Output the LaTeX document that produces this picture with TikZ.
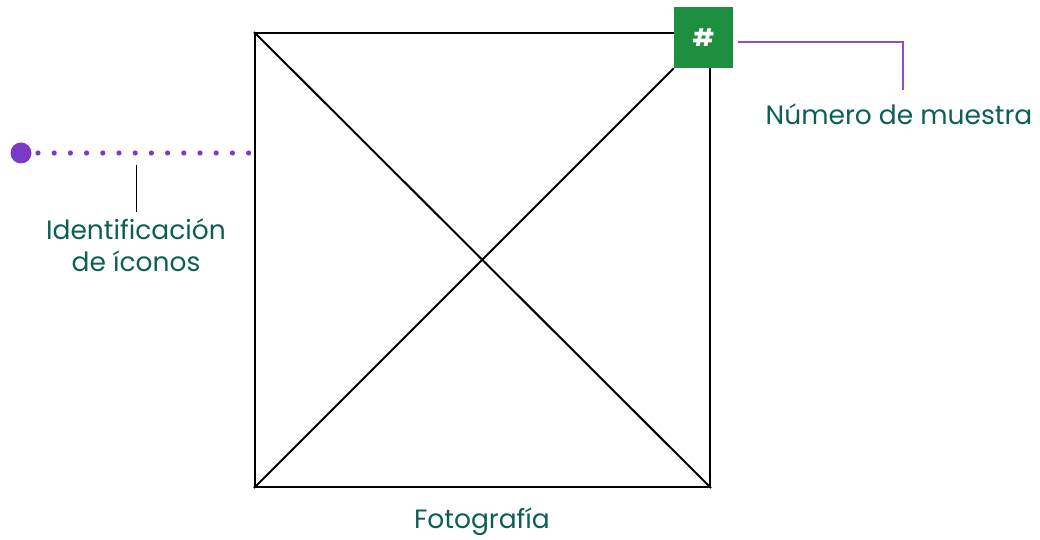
\documentclass[tikz,border=0pt]{standalone}
\usepackage{fontspec}
\setmainfont{Poppins}
\usepackage{xcolor}
\definecolor{TxtTeal}{HTML}{0B5F55}
\definecolor{BoxGreen}{HTML}{1E8F41}
\definecolor{DotPurp}{HTML}{7B3AC6}
\definecolor{LinePurp}{HTML}{8A4FD0}
\usetikzlibrary{positioning}

\begin{document}
\begin{tikzpicture}[x=1pt, y=-1pt,
  labeltext/.style={text=TxtTeal, font=\fontsize{26.5}{32}\selectfont, align=center, inner sep=0pt},
  photoframe/.style={draw=black, line width=2pt, minimum width=455pt, minimum height=454pt, inner sep=0pt}]

  % Hintergrund / Rahmen
  \useasboundingbox (0,0) rectangle (1040,540);

  % Fotografie
  \node[photoframe] (photo) at (482.5,260) {};
  \draw[line width=2pt] (photo.north west) -- (photo.south east);

  % Nummernfeld
  \node[fill=BoxGreen, minimum width=59pt, minimum height=61pt, inner sep=0pt,
        text=white, font=\fontsize{24}{24}\selectfont\bfseries] (num) at (703.5,37.5) {\#};
  \draw[line width=2pt] (photo.south west) -- (num.south west);

  % Beschriftungen
  \node[labeltext] (numlbl) at (899,114) {Número de muestra};
  \node[labeltext] (iconlbl) at (136,245) {Identificación\\de íconos};
  \node[labeltext] (photolbl) at (482,522) {Fotografía};

  % Verbinder
  \coordinate (numbend) at (903,42);
  \draw[LinePurp, line width=1.3pt] (738,42) -- (numbend) -- (numbend |- 0,90);

  \fill[DotPurp] (21,153) circle (10.5pt) coordinate (icondot);
  \foreach \i in {0,...,13}
    \fill[DotPurp] (38+16.2*\i,153) circle (2.6pt);
  \draw[black, line width=1pt] (136,165) -- (136,212);

\end{tikzpicture}
\end{document}
